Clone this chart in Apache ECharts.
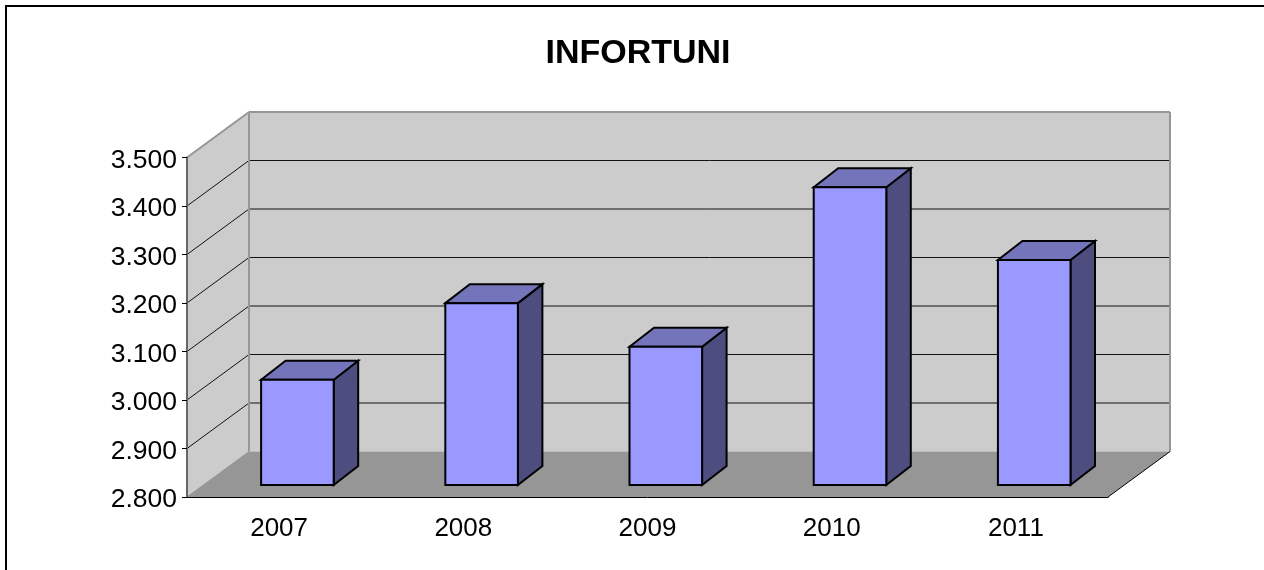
<!DOCTYPE html>
<html>
<head>
<meta charset="utf-8">
<title>INFORTUNI</title>
<style>
    html, body { margin: 0; padding: 0; background: #fff; }
    #chart { width: 1264px; height: 570px; }
</style>
<script src="https://cdn.jsdelivr.net/npm/echarts@6/dist/echarts.min.js"></script>
</head>
<body>
<div id="chart"></div>
<script>
var categories = ['2007', '2008', '2009', '2010', '2011'];
var infortuni = [3017, 3175, 3085, 3414, 3264];
var yTicks = [2800, 2900, 3000, 3100, 3200, 3300, 3400, 3500];

// finta prospettiva, in pixel
var wallDx = 62, wallDy = -45.5;
var barGapDx = 18.3, barGapDy = -12;
var barDx = 24.5, barDy = -19;
var barRatio = 0.394;

var font = '"Liberation Sans", Arial, sans-serif';

function poly(points, fill, z2) {
    return {
        type: 'polygon',
        z2: z2 || 0,
        shape: { points: points },
        style: { fill: fill, stroke: null }
    };
}

function line(x1, y1, x2, y2, color, width) {
    return {
        type: 'line',
        z2: 2,
        shape: { x1: x1, y1: y1, x2: x2, y2: y2 },
        style: { stroke: color, lineWidth: width }
    };
}

// pareti, pavimento e griglia
function renderWalls(params, api) {
    var r = params.coordSys;
    var l = r.x, t = r.y, b = r.y + r.height, e = r.x + r.width;
    var kids = [
        poly([[l, t], [l + wallDx, t + wallDy], [l + wallDx, b + wallDy], [l, b]], '#cccccc'),
        poly([[l + wallDx, t + wallDy], [e + wallDx, t + wallDy], [e + wallDx, b + wallDy], [l + wallDx, b + wallDy]], '#cccccc'),
        poly([[l, b], [l + wallDx, b + wallDy], [e + wallDx, b + wallDy], [e, b]], '#969696', 1)
    ];

    yTicks.forEach(function(v) {
        if (v == yTicks[0] || v == yTicks[yTicks.length - 1]) {
            return;
        }
        var y = api.coord([0, v])[1];
        kids.push(line(l, y, l + wallDx, y + wallDy, '#111', 1));
        kids.push(line(l + wallDx, y + wallDy, e + wallDx, y + wallDy, '#111', 1));
    });

    kids.push(line(l, t, l + wallDx, t + wallDy, '#969696', 2));
    kids.push(line(l + wallDx, t + wallDy, e + wallDx, t + wallDy, '#969696', 2));
    kids.push(line(l + wallDx, t + wallDy, l + wallDx, b + wallDy, '#969696', 2));
    kids.push(line(e + wallDx, t + wallDy, e + wallDx, b + wallDy, '#969696', 2));
    kids.push(line(l, b, l + wallDx, b + wallDy, '#969696', 1));
    kids.push(line(e, b, e + wallDx, b + wallDy, '#000', 1));

    return { type: 'group', children: kids };
}

function renderBar(params, api) {
    var band = api.size([1, 0])[0];
    var w = band * barRatio;
    var top = api.coord([api.value(0), api.value(1)]);
    var bottom = api.coord([api.value(0), yTicks[0]]);
    var x0 = top[0] - w / 2 + barGapDx;
    var x1 = x0 + w;
    var y0 = top[1] + barGapDy;
    var y1 = bottom[1] + barGapDy;
    var edge = { stroke: '#000', lineWidth: 2, lineJoin: 'miter' };

    return {
        type: 'group',
        children: [{
            type: 'polygon',
            shape: { points: [[x1, y0], [x1 + barDx, y0 + barDy], [x1 + barDx, y1 + barDy], [x1, y1]] },
            style: Object.assign({ fill: '#4d4d7f' }, edge)
        }, {
            type: 'polygon',
            shape: { points: [[x0, y0], [x0 + barDx, y0 + barDy], [x1 + barDx, y0 + barDy], [x1, y0]] },
            style: Object.assign({ fill: '#7474bb' }, edge)
        }, {
            type: 'rect',
            shape: { x: x0, y: y0, width: w, height: y1 - y0 },
            style: Object.assign({ fill: '#9999ff' }, edge)
        }]
    };
}

var chart = echarts.init(document.getElementById('chart'), null, { renderer: 'canvas' });

chart.setOption({
    animation: false,
    backgroundColor: '#fff',
    title: {
        text: 'INFORTUNI',
        left: 633,
        top: 32,
        textAlign: 'center',
        textStyle: {
            fontFamily: font,
            fontSize: 34,
            fontWeight: 'bold',
            color: '#000'
        }
    },
    graphic: [{
        type: 'polyline',
        z: 10,
        shape: { points: [[6, 570], [6, 6], [1264, 6]] },
        style: { stroke: '#000', lineWidth: 2, fill: null }
    }],
    grid: {
        left: 187,
        top: 157.5,
        width: 921,
        height: 339.5
    },
    xAxis: {
        type: 'category',
        data: categories,
        z: 5,
        axisLine: { lineStyle: { color: '#000', width: 1 } },
        axisTick: { length: 6, lineStyle: { color: '#000', width: 1 } },
        axisLabel: {
            margin: 19,
            color: '#000',
            fontFamily: font,
            fontSize: 26
        }
    },
    yAxis: {
        type: 'value',
        min: 2800,
        max: 3500,
        interval: 100,
        z: 5,
        splitLine: { show: false },
        axisLine: { show: true, lineStyle: { color: '#666', width: 2 } },
        axisTick: { show: true, length: 5, lineStyle: { color: '#000', width: 1 } },
        axisLabel: {
            margin: 10,
            color: '#000',
            fontFamily: font,
            fontSize: 26.5,
            formatter: function(v) {
                return '{v|' + (v / 1000).toFixed(3) + '}';
            },
            rich: {
                v: {
                    color: '#000',
                    fontFamily: font,
                    fontSize: 26.5,
                    padding: [6, 0, 0, 0]
                }
            }
        }
    },
    series: [{
        name: 'sfondo',
        type: 'custom',
        z: 1,
        silent: true,
        renderItem: renderWalls,
        data: [[0, yTicks[0]]]
    }, {
        name: 'INFORTUNI',
        type: 'custom',
        z: 3,
        renderItem: renderBar,
        data: infortuni.map(function(v, i) {
            return [i, v];
        })
    }]
});
</script>
</body>
</html>
